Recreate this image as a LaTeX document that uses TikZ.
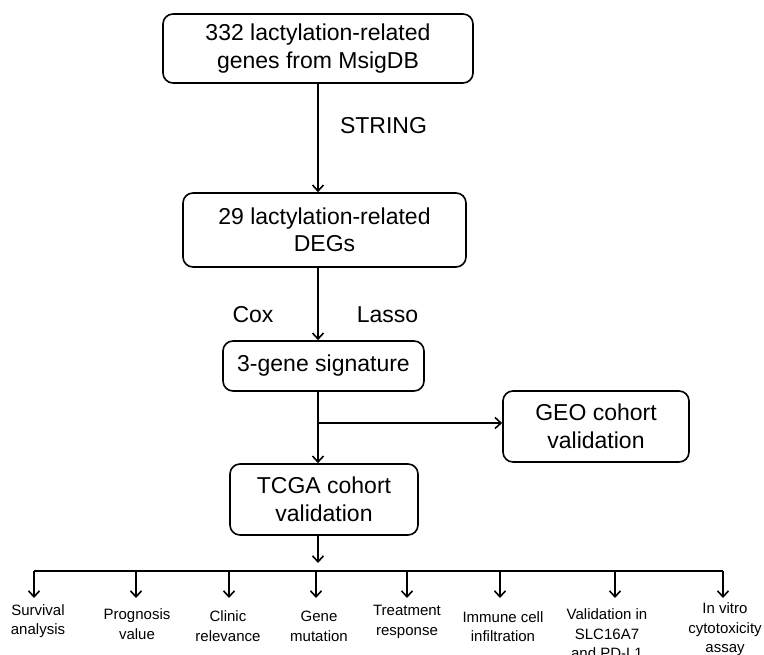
\documentclass[tikz,border=0pt]{standalone}
\usepackage{fontspec}
\setmainfont{Liberation Sans}
\usetikzlibrary{arrows.meta}
\begin{document}
\begin{tikzpicture}[x=1pt,y=-1pt,
  box/.style={draw,line width=1.6pt,rounded corners=10pt,align=center,inner sep=0pt,
    font=\fontsize{23}{27.5}\selectfont},
  lab/.style={inner sep=0pt,align=center,font=\fontsize{23}{27.5}\selectfont},
  small/.style={inner sep=0pt,align=center,font=\fontsize{15}{19.5}\selectfont},
  arr/.style={line width=1.6pt,-{Straight Barb[length=6pt,width=11pt,line width=1.6pt]}},
  ln/.style={line width=1.6pt}]
\useasboundingbox (0,0) rectangle (764,655);
\node[box,minimum width=310pt,minimum height=69pt] (b1) at (318,48.5) {332 lactylation-related\\genes from MsigDB};
\node[box,minimum width=283pt,minimum height=74pt] (b2) at (324.5,230) {29 lactylation-related\\DEGs};
\node[box,minimum width=201pt,minimum height=50pt] (b3) at (323.5,366) {3-gene signature};
\node[box,minimum width=186pt,minimum height=71pt] (geo) at (596,426.5) {GEO cohort\\validation};
\node[box,minimum width=188pt,minimum height=71pt] (tcga) at (324,499.5) {TCGA cohort\\validation};
\node[lab] (string) at (383.5,126) {STRING};
\node[lab] (cox) at (253,315) {Cox};
\node[lab] (lasso) at (387.5,315) {Lasso};
\coordinate (sp1) at (318,0);
\draw[arr] (b1.south -| sp1) -- (b2.north -| sp1);
\draw[arr] (b2.south -| sp1) -- (b3.north -| sp1);
\draw[arr] (b3.south -| sp1) -- (tcga.north -| sp1);
\coordinate (br) at (318,423);
\draw[arr] (br) -- (br -| geo.west);
\coordinate (bt) at (318,563);
\draw[arr] (tcga.south -| sp1) -- (bt);
\coordinate (busL) at (34,571);
\coordinate (busR) at (723,571);
\draw[ln] (busL) -- (busR);
\node[small] (s1) at (38,621) {Survival\\analysis};
\node[small] (s2) at (137,624) {Prognosis\\value};
\node[small] (s3) at (228,626) {Clinic\\relevance};
\node[small] (s4) at (319,626.5) {Gene\\mutation};
\node[small] (s5) at (407,622) {Treatment\\response};
\node[small] (s6) at (503,626.5) {Immune cell\\infiltration};
\node[small] (s7) at (607,634) {Validation in\\SLC16A7\\and PD-L1};
\node[small] (s8) at (725,629.5) {In vitro\\cytotoxicity\\assay};
\foreach \x/\n in {34/s1,136/s2,229/s3,316/s4,407/s5,500/s6,615/s7,723/s8}{
  \coordinate (d\n) at (\x,571);
  \coordinate (e\n) at (\x,598);
  \draw[arr] (d\n) -- (e\n);
}
\end{tikzpicture}
\end{document}
